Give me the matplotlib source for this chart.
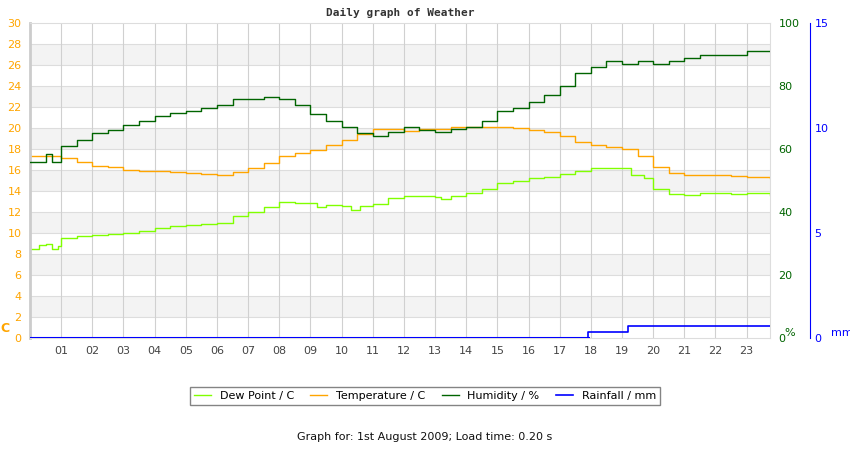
import matplotlib
matplotlib.use('Agg')
import matplotlib.pyplot as plt

# hours of the day, sampled where the steps change
temp_t = [0, 0.5, 1, 1.5, 2, 2.5, 3, 3.5, 4, 4.5, 5, 5.5, 6, 6.5, 7, 7.5, 8, 8.5, 9, 9.5, 10, 10.5, 11,
          11.5, 12, 12.5, 13, 13.5, 14, 14.5, 15, 15.5, 16, 16.5, 17, 17.5, 18, 18.5, 19, 19.5, 20,
          20.5, 21, 21.5, 22, 22.5, 23, 23.75]
temp = [17.3, 17.3, 17.1, 16.8, 16.4, 16.3, 16.0, 15.9, 15.9, 15.8, 15.7, 15.6, 15.5, 15.8, 16.2, 16.7,
        17.3, 17.6, 17.9, 18.4, 18.9, 19.4, 19.9, 19.9, 19.7, 19.9, 19.9, 20.1, 20.1, 20.1, 20.1, 20.0,
        19.8, 19.6, 19.2, 18.7, 18.4, 18.2, 18.0, 17.3, 16.3, 15.7, 15.5, 15.5, 15.5, 15.4, 15.3, 15.2]

dew_t = [0, 0.3, 0.5, 0.7, 0.9, 1, 1.5, 2, 2.5, 3, 3.5, 4, 4.5, 5, 5.5, 6, 6.5, 7, 7.5, 8, 8.5, 9, 9.2,
         9.5, 10, 10.3, 10.6, 11, 11.5, 12, 12.5, 13, 13.2, 13.5, 14, 14.5, 15, 15.5, 16, 16.5, 17, 17.5,
         18, 18.5, 19, 19.3, 19.7, 20, 20.5, 21, 21.5, 22, 22.5, 23, 23.75]
dew = [8.5, 8.9, 9.0, 8.5, 8.8, 9.5, 9.7, 9.8, 9.9, 10.0, 10.2, 10.5, 10.7, 10.8, 10.9, 11.0, 11.6, 12.0,
       12.5, 13.0, 12.9, 12.9, 12.5, 12.7, 12.6, 12.2, 12.6, 12.8, 13.3, 13.5, 13.5, 13.4, 13.2, 13.5, 13.8,
       14.2, 14.8, 15.0, 15.2, 15.3, 15.6, 15.9, 16.2, 16.2, 16.2, 15.5, 15.2, 14.2, 13.7, 13.6, 13.8, 13.8,
       13.7, 13.8, 13.6]

hum_t = [0, 0.5, 0.7, 1, 1.5, 2, 2.5, 3, 3.5, 4, 4.5, 5, 5.5, 6, 6.5, 7, 7.5, 8, 8.5, 9, 9.5, 10, 10.5, 11,
         11.5, 12, 12.5, 13, 13.5, 14, 14.5, 15, 15.5, 16, 16.5, 17, 17.5, 18, 18.5, 19, 19.5, 20, 20.5, 21,
         21.5, 22, 22.5, 23, 23.75]
hum = [56, 58.5, 56, 61, 63, 65, 66, 67.5, 69, 70.5, 71.5, 72, 73, 74, 76, 76, 76.5, 76, 74, 71, 69, 67, 65,
       64, 65.5, 67, 66, 65.5, 66.5, 67, 69, 72, 73, 75, 77, 80, 84, 86, 88, 87, 88, 87, 88, 89, 90, 90, 90,
       91, 91]

rain_t = [0, 17.9, 19.2, 23.75]
rain = [0, 0.3, 0.55, 0.55]

hour_labels = ['%02d' % h for h in range(1, 24)]

ORANGE = '#ffa500'
LIME = '#80ff00'
GREEN = '#006400'
BLUE = '#0000ff'


def main():
    fig = plt.figure(figsize=(8.5, 4.5), dpi=100)
    ax = fig.add_axes([30 / 850, 112 / 450, 740 / 850, 315 / 450])

    # background bands
    for y0 in range(2, 28, 4):
        ax.axhspan(y0, y0 + 2, color='#f3f3f3', zorder=0, lw=0)
    for y in range(2, 30, 2):
        ax.axhline(y, color='#dddddd', lw=0.8, zorder=0.5)
    for h in range(1, 24):
        ax.axvline(h, color='#d0d0d0', lw=0.8, zorder=0.5)

    ax.step(dew_t, dew, where='post', color=LIME, lw=1, label='Dew Point / C')
    ax.step(temp_t, temp, where='post', color=ORANGE, lw=1, label='Temperature / C')

    ax.set_xlim(0, 23.75)
    ax.set_ylim(0, 30)
    ax.set_xticks(range(1, 24))
    ax.set_xticklabels(hour_labels)
    ax.set_yticks(range(0, 31, 2))
    ax.tick_params(axis='y', colors=ORANGE, labelsize=8, length=0, pad=6)
    ax.tick_params(axis='x', colors='#444444', labelsize=8, length=0, pad=6)
    for s in ax.spines.values():
        s.set_color('#dddddd')
    ax.spines['left'].set_color('#cccccc')
    ax.spines['left'].set_linewidth(2)
    ax.text(-0.04, 0.01, 'C', transform=ax.transAxes, color=ORANGE, fontsize=9,
            fontweight='bold', va='bottom', ha='left')

    ax_h = ax.twinx()
    ax_h.step(hum_t, hum, where='post', color=GREEN, lw=1, label='Humidity / %')
    ax_h.set_ylim(0, 100)
    ax_h.set_yticks(range(0, 101, 20))
    ax_h.tick_params(axis='y', colors=GREEN, labelsize=8, length=0, pad=6)
    for s in ax_h.spines.values():
        s.set_visible(False)
    ax_h.text(1.019, 0.0, '%', transform=ax_h.transAxes, color=GREEN, fontsize=8, va='bottom')

    ax_r = ax.twinx()
    ax_r.step(rain_t, rain, where='post', color=BLUE, lw=1.2, label='Rainfall / mm')
    ax_r.set_ylim(0, 15)
    ax_r.set_yticks([0, 5, 10, 15])
    for s in ['top', 'left', 'bottom']:
        ax_r.spines[s].set_visible(False)
    ax_r.spines['right'].set_position(('outward', 29))
    ax_r.spines['right'].set_color(BLUE)
    ax_r.tick_params(axis='y', colors=BLUE, labelsize=8, length=0, pad=3)
    ax_r.text(1.082, 0.0, 'mm', transform=ax_r.transAxes, color=BLUE, fontsize=8, va='bottom')
    ax_r.axhline(0, color=BLUE, lw=1.5, xmax=0.755)

    ax.set_title('Daily graph of Weather', fontsize=8, fontweight='bold',
                 family='DejaVu Sans Mono', color='#333333', pad=5)

    handles = ax.get_lines()[-2:] + ax_h.get_lines() + ax_r.get_lines()[:1]
    fig.legend(handles, [h.get_label() for h in handles], loc='center', ncol=4,
               bbox_to_anchor=(0.5, 54 / 450), fontsize=8, frameon=True, fancybox=False,
               edgecolor='#666666', handlelength=1.5, columnspacing=1.5,
               borderpad=0.4)
    fig.text(0.5, 13 / 450, 'Graph for: 1st August 2009; Load time: 0.20 s',
             ha='center', va='center', fontsize=8, color='#111111')

    fig.savefig('out.png', dpi=100)


if __name__ == '__main__':
    main()
